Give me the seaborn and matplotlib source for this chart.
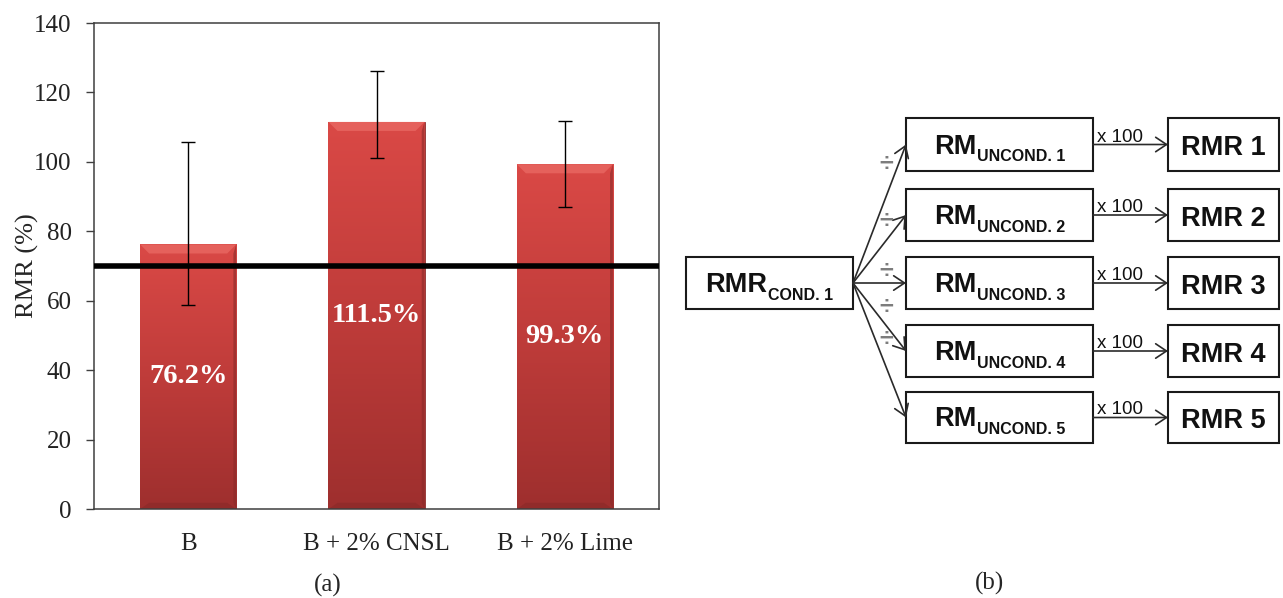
import numpy as np
import matplotlib
matplotlib.use("Agg")
import matplotlib.pyplot as plt
import seaborn as sns
from matplotlib.patches import Rectangle, Polygon
from matplotlib.colors import LinearSegmentedColormap

# ---- data: retained marshall ratio per mix ----
categories = ["B", "B + 2% CNSL", "B + 2% Lime"]
rmr = [76.2, 111.5, 99.3]
rmr_low = [58.7, 101.2, 87.1]
rmr_high = [105.6, 126.3, 111.8]
threshold = 70
y_ticks = [0, 20, 40, 60, 80, 100, 120, 140]

# ---- flow diagram texts ----
cond_main, cond_sub = "RMR", "COND. 1"
uncond_main = "RM"
uncond_subs = ["UNCOND. 1", "UNCOND. 2", "UNCOND. 3", "UNCOND. 4", "UNCOND. 5"]
ratio_labels = ["RMR 1", "RMR 2", "RMR 3", "RMR 4", "RMR 5"]
factor_label = "x 100"
divide_sign = "\u00f7"

sns.set_style("white")
serif = ["Liberation Serif", "DejaVu Serif"]
sans = ["Liberation Sans", "DejaVu Sans"]
plt.rcParams["font.family"] = serif

W, H = 1283, 598
fig = plt.figure(figsize=(W / 100, H / 100), dpi=100)
fig.patch.set_facecolor("white")

# ---------------- panel (a): bar chart ----------------
ax = fig.add_axes([94 / W, 1 - 509 / H, (659 - 94) / W, (509 - 23) / H])
ax.set_zorder(2)
sns.barplot(x=categories, y=rmr, color="#c94240", width=0.51,
            errorbar=None, ax=ax, zorder=2, edgecolor="#8e2c2b", linewidth=0.6)

cmap = LinearSegmentedColormap.from_list("bar", ["#9e2f2e", "#bf3c3a", "#da4946"])
grad = np.linspace(0, 1, 256).reshape(-1, 1)
for p in list(ax.patches):
    x0 = p.get_x()
    w = p.get_width()
    h = p.get_height()
    x1 = x0 + w
    im = ax.imshow(grad, extent=[x0, x1, 0, h], origin="lower", cmap=cmap,
                   aspect="auto", zorder=2.05, interpolation="bilinear")
    im.set_clip_path(p)
    dx, dy = 0.048, 2.6
    ax.add_patch(Polygon([(x0, h), (x1, h), (x1 - dx, h - dy), (x0 + dx, h - dy)],
                         closed=True, facecolor="#e5615c", edgecolor="none", zorder=2.1))
    ax.add_patch(Polygon([(x0, 0), (x1, 0), (x1 - dx, 1.8), (x0 + dx, 1.8)],
                         closed=True, facecolor="#8c2a29", edgecolor="none", alpha=0.7, zorder=2.1))
    ax.add_patch(Polygon([(x1, 0), (x1, h), (x1 - 0.015, h - dy), (x1 - 0.015, 1.8)],
                         closed=True, facecolor="#8a2a29", edgecolor="none", alpha=0.6, zorder=2.1))

xpos = np.arange(len(categories))
ax.errorbar(xpos, rmr,
            yerr=[np.array(rmr) - np.array(rmr_low), np.array(rmr_high) - np.array(rmr)],
            fmt="none", ecolor="black", elinewidth=1.0, capsize=4.7, capthick=1.0, zorder=4)
ax.axhline(threshold, color="black", lw=4.0, zorder=3)

for xi, v in zip(xpos, rmr):
    ax.text(xi, v / 2, f"{v:.1f}%", ha="center", va="center", color="white",
            fontsize=20.5, fontweight="bold", family=serif, zorder=5)

ax.set_xlim(-0.5, 2.5)
ax.set_ylim(0, 140)
ax.set_yticks(y_ticks)
ax.set_ylabel("RMR (%)", fontsize=19)
ax.yaxis.set_label_coords(-0.098, 0.5)
ax.set_xlabel("")
ax.tick_params(axis="y", which="both", left=True, length=6, width=1.0,
               color="#3f3f3f", labelsize=18, pad=10, labelcolor="#222222")
ax.tick_params(axis="x", length=0, labelsize=18, pad=17, labelcolor="#222222")
for s in ax.spines.values():
    s.set_visible(True)
    s.set_color("#3f3f3f")
    s.set_linewidth(1.1)
ax.set_facecolor("white")

fig.text(328 / W, 1 - 585 / H, "(a)", ha="center", va="center", fontsize=18, family=serif)
fig.text(990 / W, 1 - 583 / H, "(b)", ha="center", va="center", fontsize=18, family=serif)

# ---------------- panel (b): flow diagram ----------------
dax = fig.add_axes([0, 0, 1, 1])
dax.set_zorder(1)
dax.set_xlim(0, W)
dax.set_ylim(H, 0)
dax.axis("off")
dax.patch.set_alpha(0)

left_box = (686, 257, 853, 309)
mid_x = (906, 1093)
right_x = (1168, 1279)
rows = [(118, 171), (189, 241), (257, 309), (325, 377), (392, 443)]
div_pos = [(886, 164), (886, 221), (886, 271), (886, 307), (886, 339)]

box_kw = dict(fill=False, lw=1.5, ec="#1a1a1a")
arrow_kw = dict(arrowstyle="->,head_length=0.6,head_width=0.4", lw=1.2,
                color="#2a2a2a", shrinkA=0, shrinkB=0, mutation_scale=13)

main_fs, sub_fs = 19.5, 11.5
pairs = []


def sub_label(cx, base, main, sub):
    t = dax.text(cx, base, main, fontsize=main_fs, fontweight="bold", family=sans,
                 ha="left", va="baseline", color="#111111")
    s = dax.annotate(sub, xy=(1, 0), xycoords=t, xytext=(0.6, -1.4),
                     textcoords="offset points", fontsize=sub_fs, fontweight="bold",
                     family=sans, ha="left", va="baseline", color="#111111")
    pairs.append((t, s, cx, base))


x0, y0, x1, y1 = left_box
dax.add_patch(Rectangle((x0, y0), x1 - x0, y1 - y0, **box_kw))
left_cy = (y0 + y1) / 2
sub_label((x0 + x1) / 2, left_cy + 9, cond_main, cond_sub)

for i, (ry0, ry1) in enumerate(rows):
    cy = (ry0 + ry1) / 2
    dax.add_patch(Rectangle((mid_x[0], ry0), mid_x[1] - mid_x[0], ry1 - ry0, **box_kw))
    dax.add_patch(Rectangle((right_x[0], ry0), right_x[1] - right_x[0], ry1 - ry0, **box_kw))
    sub_label((mid_x[0] + mid_x[1]) / 2, cy + 9, uncond_main, uncond_subs[i])
    dax.text((right_x[0] + right_x[1]) / 2, cy + 10.5, ratio_labels[i], fontsize=main_fs,
             fontweight="bold", family=sans, ha="center", va="baseline", color="#111111")
    dax.annotate("", xy=(mid_x[0], cy), xytext=(x1, left_cy), arrowprops=arrow_kw)
    dax.annotate("", xy=(right_x[0], cy), xytext=(mid_x[1], cy), arrowprops=arrow_kw)
    dax.text(mid_x[1] + 4, cy - 3, factor_label, fontsize=13.5, family=sans,
             ha="left", va="baseline", color="#111111")
    dx_, dy_ = div_pos[i]
    dax.text(dx_, dy_, divide_sign, fontsize=18, fontweight="bold", family=sans,
             ha="center", va="center", color="#7d7d7d")

# center each main+subscript label pair inside its box
fig.canvas.draw()
renderer = fig.canvas.get_renderer()
for t, s, cx, base in pairs:
    width = s.get_window_extent(renderer).x1 - t.get_window_extent(renderer).x0
    t.set_position((cx - width / 2, base))

fig.savefig("out.png", dpi=100, facecolor="white")
